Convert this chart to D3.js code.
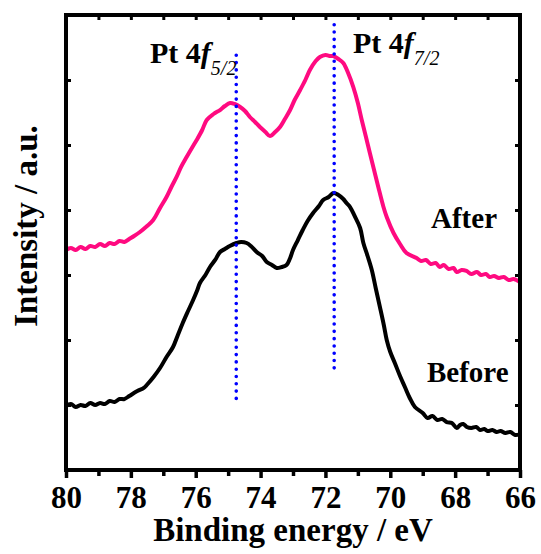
<!DOCTYPE html>
<html>
<head>
<meta charset="utf-8">
<script src="https://cdn.jsdelivr.net/npm/d3@7"></script>
<style>
  body { margin: 0; background: #fff; }
  text { font-family: "Liberation Serif", "Times New Roman", serif; font-weight: bold; }
</style>
</head>
<body>
<svg id="chart" width="541" height="554"></svg>
<script>
// binding energy (eV) and intensity (a.u.)
var beforeEV = [80.0,79.85,79.7,79.55,79.4,79.25,79.1,78.95,78.8,78.65,78.5,78.35,78.2,78.05,77.8,77.6,77.51,77.3,77.1,76.9,76.7,76.55,76.4,76.25,76.08,75.95,75.87,75.7,75.56,75.4,75.25,75.1,74.95,74.74,74.6,74.43,74.3,74.12,73.95,73.81,73.65,73.5,73.35,73.2,73.1,73.0,72.85,72.7,72.55,72.38,72.2,72.07,71.9,71.75,71.6,71.45,71.35,71.24,71.1,70.93,70.83,70.7,70.57,70.45,70.32,70.2,70.11,70.0,69.86,69.7,69.55,69.4,69.24,69.0,68.85,68.7,68.55,68.4,68.26,68.1,67.95,67.85,67.75,67.64,67.5,67.35,67.23,67.1,67.0,66.85,66.72,66.6,66.45,66.3,66.15,66.0];
var beforeI = [0.985,1.015,0.969,1.0,0.985,1.031,1.0,1.031,1.015,1.062,1.046,1.092,1.092,1.138,1.215,1.262,1.308,1.431,1.569,1.738,1.892,2.077,2.262,2.431,2.615,2.769,2.877,3.0,3.123,3.231,3.354,3.4,3.446,3.492,3.508,3.492,3.446,3.354,3.292,3.2,3.154,3.108,3.123,3.154,3.246,3.385,3.538,3.692,3.831,3.954,4.062,4.154,4.2,4.262,4.231,4.169,4.108,4.046,3.908,3.723,3.492,3.292,3.077,2.8,2.508,2.231,2.0,1.815,1.646,1.446,1.277,1.108,0.969,0.877,0.8,0.831,0.769,0.785,0.738,0.723,0.646,0.692,0.708,0.662,0.646,0.662,0.615,0.631,0.6,0.615,0.585,0.6,0.569,0.585,0.538,0.554];

var afterEV = [80.0,79.85,79.7,79.55,79.4,79.25,79.1,78.95,78.8,78.65,78.5,78.35,78.2,78.05,77.9,77.72,77.5,77.31,77.1,76.9,76.75,76.59,76.45,76.28,76.1,75.97,75.8,75.66,75.45,75.25,75.1,74.94,74.8,74.63,74.48,74.33,74.17,74.02,73.85,73.71,73.55,73.4,73.25,73.09,72.95,72.78,72.62,72.48,72.3,72.17,72.0,71.85,71.76,71.6,71.45,71.3,71.14,71.0,70.88,70.75,70.63,70.5,70.37,70.21,70.11,69.9,69.7,69.5,69.19,69.05,68.9,68.75,68.6,68.47,68.35,68.2,68.05,67.95,67.8,67.65,67.5,67.33,67.2,67.05,66.93,66.8,66.65,66.5,66.35,66.2,66.0];
var afterI = [3.385,3.415,3.385,3.431,3.4,3.446,3.431,3.477,3.446,3.492,3.477,3.523,3.508,3.554,3.6,3.662,3.754,3.846,4.031,4.2,4.354,4.508,4.662,4.815,4.969,5.077,5.231,5.385,5.477,5.538,5.6,5.646,5.631,5.585,5.523,5.431,5.354,5.277,5.2,5.138,5.2,5.277,5.4,5.538,5.692,5.846,6.0,6.154,6.292,6.354,6.385,6.369,6.369,6.323,6.262,6.108,5.892,5.646,5.385,5.123,4.877,4.615,4.354,4.046,3.892,3.646,3.477,3.338,3.262,3.215,3.231,3.169,3.185,3.123,3.154,3.092,3.108,3.046,3.077,3.062,3.015,3.046,3.0,3.015,2.969,2.985,2.954,2.969,2.923,2.938,2.892];

// dotted markers at the Pt 4f peaks
var peakEV = [74.75, 71.73];
var peakTop = [6.38, 6.85];
var peakBottom = [1.08, 1.55];

var xTicksMajor = [80, 78, 76, 74, 72, 70, 68, 66];
var xTicksMinor = [79, 77, 75, 73, 71, 69, 67];
var yTicks = [1, 2, 3, 4, 5, 6];

var svg = d3.select("#chart");
var mLeft = 66, mRight = 520, mTop = 15, mBottom = 470;

var x = d3.scaleLinear().domain([80, 66]).range([mLeft, mRight]);
var y = d3.scaleLinear().domain([0, 7]).range([mBottom, mTop]);

var line = d3.line()
  .x(function(d) { return x(d[0]); })
  .y(function(d) { return y(d[1]); })
  .curve(d3.curveCatmullRom.alpha(0.5));

// curves
svg.append("path")
  .datum(d3.zip(beforeEV, beforeI))
  .attr("d", line)
  .attr("fill", "none")
  .attr("stroke", "#000")
  .attr("stroke-width", 4)
  .attr("stroke-linejoin", "round");

svg.append("path")
  .datum(d3.zip(afterEV, afterI))
  .attr("d", line)
  .attr("fill", "none")
  .attr("stroke", "#ff0a80")
  .attr("stroke-width", 4)
  .attr("stroke-linejoin", "round");

// blue dotted lines
svg.selectAll(".peak")
  .data(peakEV)
  .enter()
  .append("line")
  .attr("class", "peak")
  .attr("x1", function(d) { return x(d); })
  .attr("x2", function(d) { return x(d); })
  .attr("y1", function(d, i) { return y(peakTop[i]); })
  .attr("y2", function(d, i) { return y(peakBottom[i]); })
  .attr("stroke", "#0000ff")
  .attr("stroke-width", 3.6)
  .attr("stroke-linecap", "round")
  .attr("stroke-dasharray", "0,7.3");

// axes
function styleAxis(g, w) {
  g.select(".domain").remove();
  g.selectAll(".tick line").attr("stroke", "#000").attr("stroke-width", w);
}

var gx = svg.append("g")
  .attr("transform", "translate(0," + mBottom + ")")
  .call(d3.axisBottom(x).tickValues(xTicksMajor).tickSize(8).tickPadding(8).tickFormat(d3.format("d")));
styleAxis(gx, 3.5);
gx.selectAll(".tick text")
  .attr("font-size", 31)
  .attr("font-family", "'Liberation Serif', serif")
  .attr("font-weight", "bold")
  .attr("fill", "#000");

var gxm = svg.append("g")
  .attr("transform", "translate(0," + mBottom + ")")
  .call(d3.axisBottom(x).tickValues(xTicksMinor).tickSize(6).tickFormat(""));
styleAxis(gxm, 3.5);

var gt = svg.append("g")
  .attr("transform", "translate(0," + mTop + ")")
  .call(d3.axisBottom(x).tickValues(xTicksMajor.concat(xTicksMinor)).tickSize(5).tickFormat(""));
styleAxis(gt, 3);

var gl = svg.append("g")
  .attr("transform", "translate(" + mLeft + ",0)")
  .call(d3.axisRight(y).tickValues(yTicks).tickSize(5).tickFormat(""));
styleAxis(gl, 3);

var gr = svg.append("g")
  .attr("transform", "translate(" + mRight + ",0)")
  .call(d3.axisLeft(y).tickValues(yTicks).tickSize(5).tickFormat(""));
styleAxis(gr, 3);

// frame
svg.append("rect")
  .attr("x", mLeft).attr("y", mTop)
  .attr("width", mRight - mLeft).attr("height", mBottom - mTop)
  .attr("fill", "none")
  .attr("stroke", "#000")
  .attr("stroke-width", 4);

// axis titles
svg.append("text")
  .attr("x", (mLeft + mRight) / 2)
  .attr("y", 541)
  .attr("text-anchor", "middle")
  .attr("font-size", 33)
  .text("Binding energy / eV");

svg.append("text")
  .attr("transform", "translate(37,226) rotate(-90)")
  .attr("text-anchor", "middle")
  .attr("font-size", 33)
  .text("Intensity / a.u.");

// curve labels
svg.append("text").attr("x", 427).attr("y", 382).attr("font-size", 29).text("Before");
svg.append("text").attr("x", 431).attr("y", 228).attr("font-size", 29).text("After");

// peak labels
var peakLabels = [
  { main: "Pt 4", sub: "5/2", x: 150, y: 63 },
  { main: "Pt 4", sub: "7/2", x: 353, y: 53 }
];
peakLabels.forEach(function(p) {
  var t = svg.append("text").attr("x", p.x).attr("y", p.y).attr("font-size", 30);
  t.append("tspan").text(p.main);
  t.append("tspan").attr("font-style", "italic").text("f");
  t.append("tspan").attr("font-style", "italic").attr("font-weight", "normal")
    .attr("font-size", 20).attr("dy", 12).text(p.sub);
});
</script>
</body>
</html>
